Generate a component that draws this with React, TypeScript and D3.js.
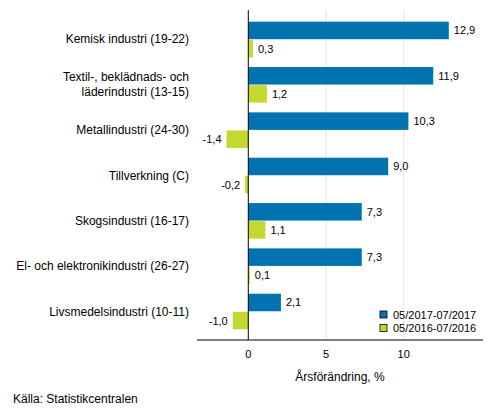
import { useEffect, useRef } from 'react';
import * as d3 from 'd3';

const categories = [
  'Kemisk industri (19-22)',
  'Textil-, beklädnads- och\nläderindustri (13-15)',
  'Metallindustri (24-30)',
  'Tillverkning (C)',
  'Skogsindustri (16-17)',
  'El- och elektronikindustri (26-27)',
  'Livsmedelsindustri (10-11)',
];
const seriesNames = ['05/2017-07/2017', '05/2016-07/2016'];
const values2017 = [12.9, 11.9, 10.3, 9.0, 7.3, 7.3, 2.1];
const values2016 = [0.3, 1.2, -1.4, -0.2, 1.1, 0.1, -1.0];
const xTicks = [0, 5, 10];
const seriesColors = ['#0073b0', '#c4d82e'];

const W = 493;
const H = 416;
const FONT = 'Arial, "Liberation Sans", sans-serif';

export default function App() {
  const svgRef = useRef<SVGSVGElement>(null);

  useEffect(() => {
    if (!svgRef.current) return;
    const svg = d3.select(svgRef.current);
    svg.selectAll('*').remove();

    const plotTop = 10;
    const plotBottom = 340;

    const x = d3.scaleLinear().domain([-3.3, 15.1]).range([197, 483]);
    const y = d3.scaleBand<string>()
      .domain(categories)
      .range([16.8, 334.2])
      .paddingInner(0.215)
      .paddingOuter(0.1075);
    const inner = d3.scaleBand<string>()
      .domain(seriesNames)
      .range([0, y.bandwidth()])
      .paddingInner(0.03);

    // gridlines
    svg.append('g')
      .selectAll('line')
      .data(xTicks.filter((t) => t !== 0))
      .join('line')
      .attr('x1', (d) => x(d))
      .attr('x2', (d) => x(d))
      .attr('y1', plotTop)
      .attr('y2', plotBottom)
      .attr('stroke', '#e6e6e6')
      .attr('stroke-width', 1);

    const series = [values2017, values2016];

    series.forEach((vals, si) => {
      const name = seriesNames[si];
      const g = svg.append('g');
      g.selectAll('rect')
        .data(vals)
        .join('rect')
        .attr('x', (d) => Math.min(x(0), x(d)))
        .attr('width', (d) => Math.abs(x(d) - x(0)))
        .attr('y', (_, i) => (y(categories[i]) ?? 0) + (inner(name) ?? 0))
        .attr('height', inner.bandwidth())
        .attr('fill', seriesColors[si]);

      g.selectAll('text')
        .data(vals)
        .join('text')
        .attr('x', (d) => (d >= 0 ? x(d) + 5 : x(d) - 5))
        .attr('y', (_, i) => (y(categories[i]) ?? 0) + (inner(name) ?? 0) + inner.bandwidth() / 2)
        .attr('text-anchor', (d) => (d >= 0 ? 'start' : 'end'))
        .attr('dominant-baseline', 'central')
        .style('font-family', FONT)
        .style('font-size', '11px')
        .style('fill', '#000')
        .text((d) => d.toFixed(1).replace('.', ','));
    });

    // zero line
    svg.append('line')
      .attr('x1', x(0))
      .attr('x2', x(0))
      .attr('y1', plotTop)
      .attr('y2', plotBottom)
      .attr('stroke', '#000')
      .attr('stroke-width', 1);

    // x axis line
    svg.append('line')
      .attr('x1', x.range()[0])
      .attr('x2', x.range()[1])
      .attr('y1', plotBottom)
      .attr('y2', plotBottom)
      .attr('stroke', '#000')
      .attr('stroke-width', 1);

    // x tick labels
    svg.append('g')
      .selectAll('text')
      .data(xTicks)
      .join('text')
      .attr('x', (d) => x(d))
      .attr('y', 354)
      .attr('text-anchor', 'middle')
      .attr('dominant-baseline', 'central')
      .style('font-family', FONT)
      .style('font-size', '11px')
      .style('fill', '#000')
      .text((d) => String(d));

    // axis title
    svg.append('text')
      .attr('x', (x.range()[0] + x.range()[1]) / 2)
      .attr('y', 377)
      .attr('text-anchor', 'middle')
      .attr('dominant-baseline', 'central')
      .style('font-family', FONT)
      .style('font-size', '12px')
      .style('fill', '#000')
      .text('Årsförändring, %');

    // category labels
    const catG = svg.append('g');
    categories.forEach((c) => {
      const lines = c.split('\n');
      const cy = (y(c) ?? 0) + y.bandwidth() / 2;
      const t = catG.append('text')
        .attr('text-anchor', 'end')
        .style('font-family', FONT)
        .style('font-size', '12px')
        .style('fill', '#000');
      lines.forEach((ln, li) => {
        t.append('tspan')
          .attr('x', 189)
          .attr('y', cy + (li - (lines.length - 1) / 2) * 15)
          .attr('dominant-baseline', 'central')
          .text(ln);
      });
    });

    // legend
    const legend = svg.append('g');
    seriesNames.forEach((n, i) => {
      const ly = 314.5 + i * 13.5;
      legend.append('rect')
        .attr('x', 380)
        .attr('y', ly - 3.5)
        .attr('width', 7)
        .attr('height', 7)
        .attr('fill', seriesColors[i])
        .attr('stroke', '#000')
        .attr('stroke-width', 0.8);
      legend.append('text')
        .attr('x', 393)
        .attr('y', ly)
        .attr('dominant-baseline', 'central')
        .style('font-family', FONT)
        .style('font-size', '11px')
        .style('fill', '#000')
        .text(n);
    });

    // source
    svg.append('text')
      .attr('x', 13)
      .attr('y', 399)
      .attr('dominant-baseline', 'central')
      .style('font-family', FONT)
      .style('font-size', '12px')
      .style('fill', '#000')
      .text('Källa: Statistikcentralen');
  }, []);

  return (
    <svg
      ref={svgRef}
      width={W}
      height={H}
      style={{ position: 'absolute', left: 0, top: 0, background: '#fff' }}
    />
  );
}
